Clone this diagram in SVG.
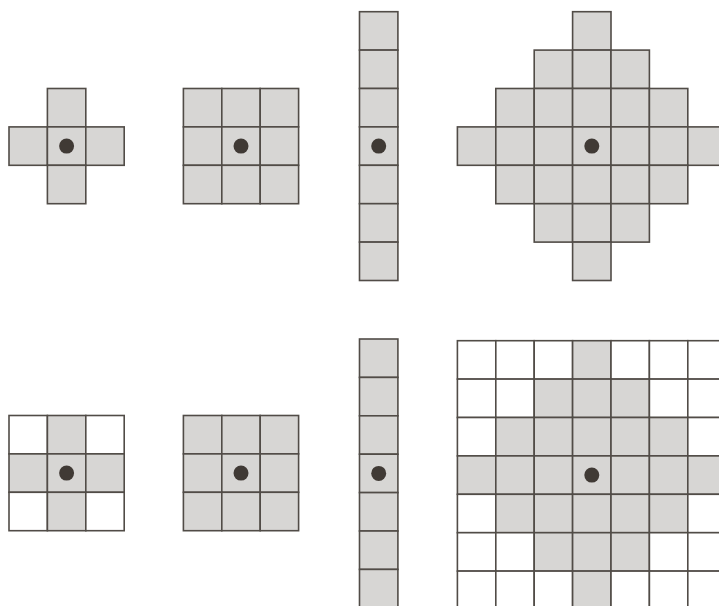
<svg xmlns="http://www.w3.org/2000/svg" width="719" height="606" viewBox="0 0 719 606">
<style>
.g{fill:#d7d6d4;stroke:#514c47;stroke-width:1.6}
.w{fill:#ffffff;stroke:#514c47;stroke-width:1.6}
.d{fill:#403a35}
</style>
<defs>
<rect id="cg" class="g" width="38.4" height="38.4"/>
<rect id="cw" class="w" width="38.4" height="38.4"/>
</defs>
<rect width="719" height="606" fill="#ffffff"/>
<g id="cross">
<use href="#cg" x="47.4" y="88.5"/>
<use href="#cg" x="9" y="126.9"/><use href="#cg" x="47.4" y="126.9"/><use href="#cg" x="85.8" y="126.9"/>
<use href="#cg" x="47.4" y="165.3"/>
<circle class="d" cx="66.6" cy="146.1" r="7.5"/>
</g>
<g id="square3">
<use href="#cg" x="183.4" y="88.5"/><use href="#cg" x="221.8" y="88.5"/><use href="#cg" x="260.2" y="88.5"/>
<use href="#cg" x="183.4" y="126.9"/><use href="#cg" x="221.8" y="126.9"/><use href="#cg" x="260.2" y="126.9"/>
<use href="#cg" x="183.4" y="165.3"/><use href="#cg" x="221.8" y="165.3"/><use href="#cg" x="260.2" y="165.3"/>
<circle class="d" cx="241" cy="146.1" r="7.5"/>
</g>
<g id="column">
<use href="#cg" x="359.5" y="11.7"/><use href="#cg" x="359.5" y="50.1"/><use href="#cg" x="359.5" y="88.5"/>
<use href="#cg" x="359.5" y="126.9"/><use href="#cg" x="359.5" y="165.3"/><use href="#cg" x="359.5" y="203.7"/>
<use href="#cg" x="359.5" y="242.1"/>
<circle class="d" cx="378.7" cy="146.1" r="7.5"/>
</g>
<g id="diamond">
<use href="#cg" x="572.6" y="11.7"/>
<use href="#cg" x="534.2" y="50.1"/><use href="#cg" x="572.6" y="50.1"/><use href="#cg" x="611" y="50.1"/>
<use href="#cg" x="495.8" y="88.5"/><use href="#cg" x="534.2" y="88.5"/><use href="#cg" x="572.6" y="88.5"/><use href="#cg" x="611" y="88.5"/><use href="#cg" x="649.4" y="88.5"/>
<use href="#cg" x="457.4" y="126.9"/><use href="#cg" x="495.8" y="126.9"/><use href="#cg" x="534.2" y="126.9"/><use href="#cg" x="572.6" y="126.9"/><use href="#cg" x="611" y="126.9"/><use href="#cg" x="649.4" y="126.9"/><use href="#cg" x="687.8" y="126.9"/>
<use href="#cg" x="495.8" y="165.3"/><use href="#cg" x="534.2" y="165.3"/><use href="#cg" x="572.6" y="165.3"/><use href="#cg" x="611" y="165.3"/><use href="#cg" x="649.4" y="165.3"/>
<use href="#cg" x="534.2" y="203.7"/><use href="#cg" x="572.6" y="203.7"/><use href="#cg" x="611" y="203.7"/>
<use href="#cg" x="572.6" y="242.1"/>
<circle class="d" cx="591.8" cy="146.1" r="7.5"/>
</g>
<g id="cross-grid">
<use href="#cw" x="9" y="415.5"/><use href="#cg" x="47.4" y="415.5"/><use href="#cw" x="85.8" y="415.5"/>
<use href="#cg" x="9" y="453.9"/><use href="#cg" x="47.4" y="453.9"/><use href="#cg" x="85.8" y="453.9"/>
<use href="#cw" x="9" y="492.3"/><use href="#cg" x="47.4" y="492.3"/><use href="#cw" x="85.8" y="492.3"/>
<circle class="d" cx="66.6" cy="473.1" r="7.5"/>
</g>
<g id="square3-grid">
<use href="#cg" x="183.4" y="415.5"/><use href="#cg" x="221.8" y="415.5"/><use href="#cg" x="260.2" y="415.5"/>
<use href="#cg" x="183.4" y="453.9"/><use href="#cg" x="221.8" y="453.9"/><use href="#cg" x="260.2" y="453.9"/>
<use href="#cg" x="183.4" y="492.3"/><use href="#cg" x="221.8" y="492.3"/><use href="#cg" x="260.2" y="492.3"/>
<circle class="d" cx="241" cy="473.1" r="7.5"/>
</g>
<g id="column-grid">
<use href="#cg" x="359.5" y="339"/><use href="#cg" x="359.5" y="377.4"/><use href="#cg" x="359.5" y="415.8"/>
<use href="#cg" x="359.5" y="454.2"/><use href="#cg" x="359.5" y="492.6"/><use href="#cg" x="359.5" y="531"/>
<use href="#cg" x="359.5" y="569.4"/>
<circle class="d" cx="378.7" cy="473.4" r="7.5"/>
</g>
<g id="diamond-grid">
<use href="#cw" x="457.4" y="340.7"/><use href="#cw" x="495.8" y="340.7"/><use href="#cw" x="534.2" y="340.7"/><use href="#cg" x="572.6" y="340.7"/><use href="#cw" x="611" y="340.7"/><use href="#cw" x="649.4" y="340.7"/><use href="#cw" x="687.8" y="340.7"/>
<use href="#cw" x="457.4" y="379.1"/><use href="#cw" x="495.8" y="379.1"/><use href="#cg" x="534.2" y="379.1"/><use href="#cg" x="572.6" y="379.1"/><use href="#cg" x="611" y="379.1"/><use href="#cw" x="649.4" y="379.1"/><use href="#cw" x="687.8" y="379.1"/>
<use href="#cw" x="457.4" y="417.5"/><use href="#cg" x="495.8" y="417.5"/><use href="#cg" x="534.2" y="417.5"/><use href="#cg" x="572.6" y="417.5"/><use href="#cg" x="611" y="417.5"/><use href="#cg" x="649.4" y="417.5"/><use href="#cw" x="687.8" y="417.5"/>
<use href="#cg" x="457.4" y="455.9"/><use href="#cg" x="495.8" y="455.9"/><use href="#cg" x="534.2" y="455.9"/><use href="#cg" x="572.6" y="455.9"/><use href="#cg" x="611" y="455.9"/><use href="#cg" x="649.4" y="455.9"/><use href="#cg" x="687.8" y="455.9"/>
<use href="#cw" x="457.4" y="494.3"/><use href="#cg" x="495.8" y="494.3"/><use href="#cg" x="534.2" y="494.3"/><use href="#cg" x="572.6" y="494.3"/><use href="#cg" x="611" y="494.3"/><use href="#cg" x="649.4" y="494.3"/><use href="#cw" x="687.8" y="494.3"/>
<use href="#cw" x="457.4" y="532.7"/><use href="#cw" x="495.8" y="532.7"/><use href="#cg" x="534.2" y="532.7"/><use href="#cg" x="572.6" y="532.7"/><use href="#cg" x="611" y="532.7"/><use href="#cw" x="649.4" y="532.7"/><use href="#cw" x="687.8" y="532.7"/>
<use href="#cw" x="457.4" y="571.1"/><use href="#cw" x="495.8" y="571.1"/><use href="#cw" x="534.2" y="571.1"/><use href="#cg" x="572.6" y="571.1"/><use href="#cw" x="611" y="571.1"/><use href="#cw" x="649.4" y="571.1"/><use href="#cw" x="687.8" y="571.1"/>
<circle class="d" cx="591.8" cy="475.1" r="7.5"/>
</g>
<g id="connectors"/>
</svg>
